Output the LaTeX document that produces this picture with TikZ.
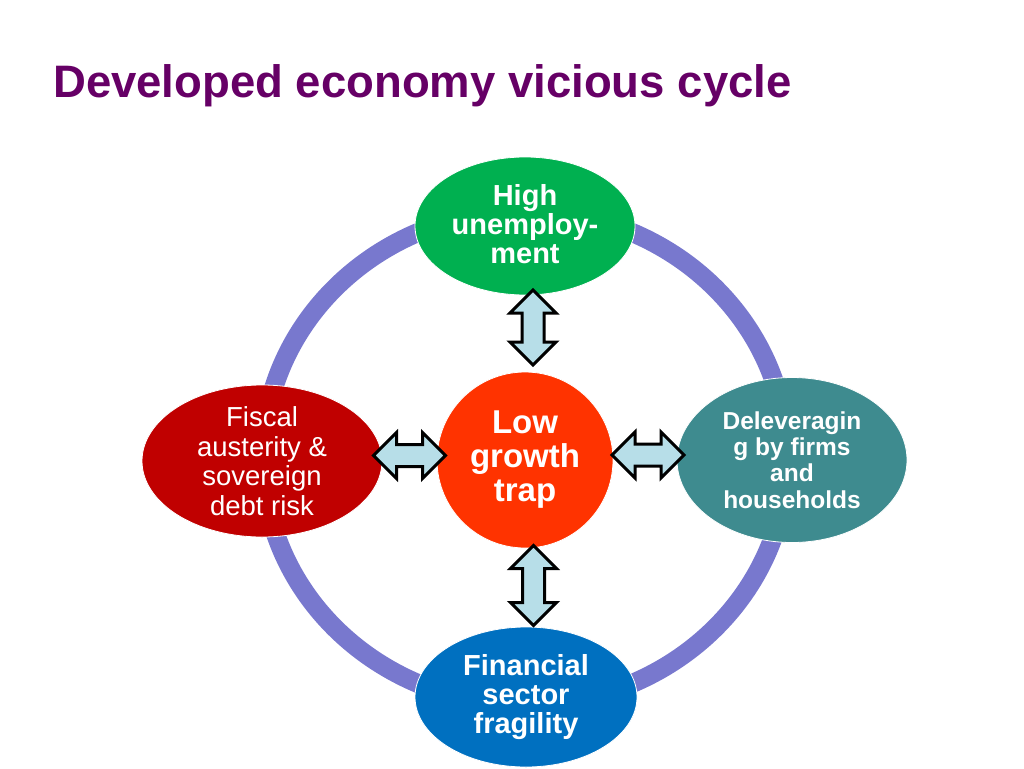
\documentclass[tikz,border=0pt]{standalone}
\usepackage{fontspec}
\setmainfont{Liberation Sans}
\usepackage{tikz}
\usetikzlibrary{shapes.geometric,calc}
\definecolor{titlepurple}{HTML}{660066}
\definecolor{ringblue}{HTML}{7878CE}
\definecolor{jobgreen}{HTML}{00B050}
\definecolor{fiscred}{HTML}{C00000}
\definecolor{levteal}{HTML}{3E8B8F}
\definecolor{finblue}{HTML}{0070C0}
\definecolor{trapred}{HTML}{FF3300}
\definecolor{arrowfill}{HTML}{B7DEE8}

\newcommand{\bothways}[3]{%
  \draw[blockarrow,shift={(#1)},rotate=#2]
    (-#3,0) -- ({-#3+23},-23) -- ({-#3+23},-11) -- ({#3-23},-11) -- ({#3-23},-23) -- (#3,0)
    -- ({#3-23},23) -- ({#3-23},11) -- ({-#3+23},11) -- ({-#3+23},23) -- cycle;}

\begin{document}
\begin{tikzpicture}[x=1pt,y=-1pt,
  bubble/.style={ellipse,draw=white,line width=0.8pt,inner sep=0pt},
  bubbletext/.style={text=white,align=center,inner sep=0pt},
  blockarrow/.style={draw=black,line width=3pt,fill=arrowfill},
  ring/.style={ringblue,line width=19pt}]
\useasboundingbox (0,0) rectangle (1024,768);
\node[anchor=base west,inner sep=0pt,text=titlepurple,font=\fontsize{45.5}{54}\selectfont\bfseries] (title) at (53,97) {Developed economy vicious cycle};
\draw[ring] (525,458) ellipse [x radius=262pt,y radius=247pt];
\node[bubble,fill=jobgreen,minimum width=220pt,minimum height=138pt] (jobs) at (525,226) {};
\node[bubble,fill=fiscred,minimum width=240pt,minimum height=152pt] (fiscal) at (262,461) {};
\node[bubble,fill=levteal,minimum width=230pt,minimum height=165pt] (delev) at (792,460) {};
\node[bubble,fill=finblue,minimum width=222pt,minimum height=140pt] (finsec) at (526,697) {};
\node[circle,fill=trapred,draw=white,line width=0.8pt,inner sep=0pt,minimum size=176pt] (trap) at (525,460) {};
\node[bubbletext,font=\fontsize{29}{29}\selectfont\bfseries] (jobslbl) at ($(jobs)+(0,-2)$) {High\\unemploy-\\ment};
\node[bubbletext,font=\fontsize{27.5}{29.5}\selectfont] (fiscallbl) at (fiscal) {Fiscal\\austerity \&\\sovereign\\debt risk};
\node[bubbletext,font=\fontsize{24.5}{26.3}\selectfont\bfseries] (delevlbl) at (delev) {Deleveragin\\g by firms\\and\\households};
\node[bubbletext,font=\fontsize{29}{29}\selectfont\bfseries] (finseclbl) at (finsec) {Financial\\sector\\fragility};
\node[bubbletext,font=\fontsize{33}{34}\selectfont\bfseries] (traplbl) at (trap) {Low\\growth\\trap};
\coordinate (upmid) at ($(jobs.south)!.5!(trap.north)+(8,-6)$);
\coordinate (downmid) at ($(trap.south)!.5!(finsec.north)+(8,-2)$);
\coordinate (leftmid) at ($(fiscal.east)!.5!(trap.west)+(0,-5)$);
\coordinate (rightmid) at ($(trap.east)!.5!(delev.west)+(3,-5)$);
\bothways{upmid}{90}{37.5}
\bothways{downmid}{90}{40}
\bothways{leftmid}{0}{36}
\bothways{rightmid}{0}{36}
\end{tikzpicture}
\end{document}
